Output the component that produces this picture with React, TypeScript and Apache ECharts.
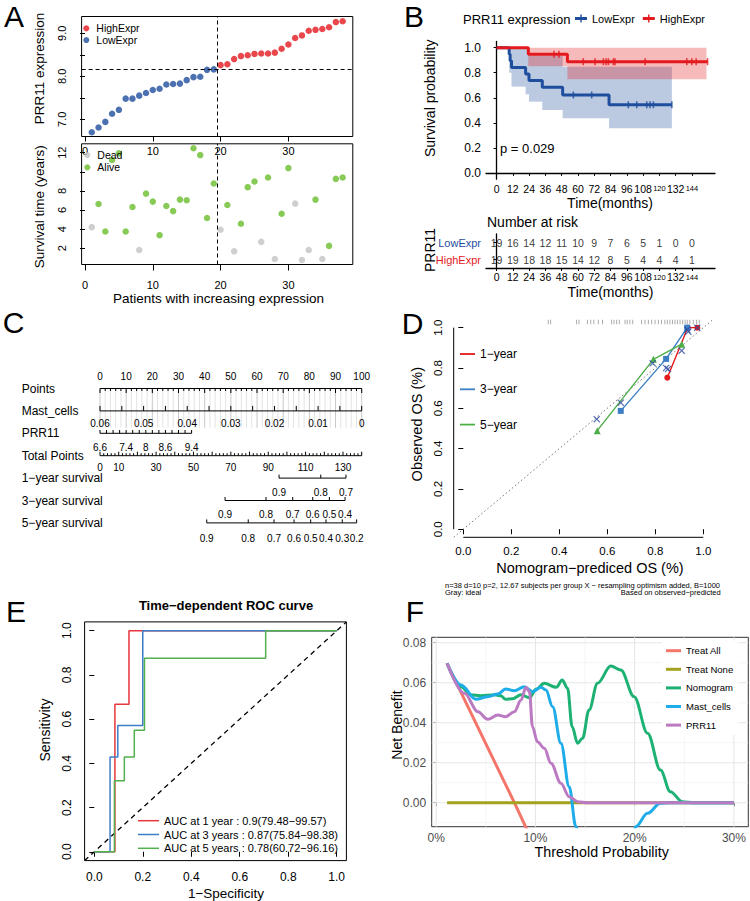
import React, { useEffect, useRef } from "react";
import * as echarts from "echarts";

const FONT = "'Liberation Sans', Arial, Helvetica, sans-serif";

/* ---------------- A: PRR11 expression ranking and survival status ---------------- */
const lowExpr = [6.70, 6.81, 6.94, 7.13, 7.22, 7.48, 7.48, 7.55, 7.61, 7.68, 7.71, 7.81, 7.82, 7.83, 7.91, 7.98, 7.99, 8.15, 8.16];
const highExpr = [8.26, 8.28, 8.40, 8.47, 8.49, 8.52, 8.53, 8.53, 8.55, 8.64, 8.74, 8.89, 8.95, 9.06, 9.08, 9.10, 9.14, 9.26, 9.28];
const exprCutoff = 8.16;
const groupBoundary = 19.5;
const deadPatients = [[1, 4.21], [8, 1.82], [20, 3.93], [22, 1.68], [26, 2.67], [28, 0.88], [31, 6.67], [32, 0.77], [33, 1.82], [35, 0.88]];
const alivePatients = [[2, 6.63], [3, 3.75], [4, 11.23], [5, 11.93], [6, 3.75], [7, 6.32], [9, 7.72], [10, 6.88], [11, 3.37], [12, 6.42], [13, 5.89], [14, 7.09], [15, 7.02], [16, 12.46], [17, 11.75], [18, 5.16], [19, 8.77], [21, 6.53], [23, 4.56], [24, 8.39], [25, 8.98], [27, 9.40], [29, 5.61], [30, 10.39], [34, 7.09], [36, 2.25], [37, 9.26], [38, 9.40]];
const patientTicks = [0, 10, 20, 30];

/* ---------------- B: Kaplan-Meier by PRR11 group ---------------- */
const kmLow = [[0, 1], [9.3, 0.947], [10, 0.895], [11, 0.842], [21.4, 0.789], [23.9, 0.737], [33.7, 0.684], [48.7, 0.622], [82.9, 0.544], [129.2, 0.544]];
const kmHigh = [[0, 1], [23.4, 0.947], [52.2, 0.888], [155.5, 0.888]];
const censorLow = [[56.6, 0.622], [70.1, 0.622], [97.1, 0.544], [103.3, 0.544], [110.7, 0.544], [113.1, 0.544], [115.6, 0.544], [129.2, 0.544]];
const censorHigh = [[42.3, 0.947], [46.0, 0.947], [63.9, 0.888], [72.6, 0.888], [78.7, 0.888], [80.7, 0.888], [82.4, 0.888], [86.1, 0.888], [87.3, 0.888], [109.5, 0.888], [140.2, 0.888], [143.9, 0.888], [147.1, 0.888], [155.5, 0.888]];
// confidence bands: [start, end, lower, upper]
const bandLow = [[9.3, 11, 0.80, 1], [11, 21.4, 0.689, 1], [21.4, 23.9, 0.628, 1], [23.9, 33.7, 0.569, 0.936], [33.7, 48.7, 0.503, 0.936], [48.7, 82.9, 0.436, 0.848], [82.9, 129.2, 0.357, 0.848]];
const bandHigh = [[23.4, 52.2, 0.852, 1], [52.2, 154.7, 0.748, 1]];
const riskTimes = [0, 12, 24, 36, 48, 60, 72, 84, 96, 108, 120, 132, 144];
const riskLow = [19, 16, 14, 12, 11, 10, 9, 7, 6, 5, 1, 0, 0];
const riskHigh = [19, 19, 18, 18, 15, 14, 12, 8, 5, 4, 4, 4, 1];
const probTicks = [0, 0.2, 0.4, 0.6, 0.8, 1];

/* ---------------- C: nomogram scales ---------------- */
const nomoRows = ["Points", "Mast_cells", "PRR11", "Total Points", "1\u2212year survival", "3\u2212year survival", "5\u2212year survival"];
const pointsLabels = [0, 10, 20, 30, 40, 50, 60, 70, 80, 90, 100];
const mastTicks = [0.06, 0.055, 0.05, 0.045, 0.04, 0.035, 0.03, 0.025, 0.02, 0.015, 0.01, 0.005, 0];
const mastLabelVals = [0.06, 0.05, 0.04, 0.03, 0.02, 0.01, 0];
const mastLabelText = ["0.06", "0.05", "0.04", "0.03", "0.02", "0.01", "0"];
const prrTicks = [6.6, 6.8, 7.0, 7.2, 7.4, 7.6, 7.8, 8.0, 8.2, 8.4, 8.6, 8.8, 9.0, 9.2, 9.4];
const prrLabelVals = [6.6, 7.4, 8, 8.6, 9.4];
const totalLabels = [0, 10, 30, 50, 70, 90, 110, 130];
const surv1Text = ["0.9", "0.8", "0.7"];
const surv1Pts = [95.8, 118.1, 131.6];
const surv3Text = ["0.9", "0.8", "0.7", "0.6", "0.5", "0.4"];
const surv3Pts = [66.9, 88.8, 103.1, 113.8, 122.7, 131.1];
const surv5Text = ["0.9", "0.8", "0.7", "0.6", "0.5", "0.4", "0.3", "0.2"];
const surv5Pts = [57.1, 79.3, 93.1, 103.8, 112.7, 120.9, 129.6, 137.3];
const POINTS_MAX = 100;
const TOTAL_MAX = 140;
const MAST_AT_ZERO = 0.06;
const PRR_MIN = 6.6;
const PRR_MAX = 9.4;
const PRR_MAX_POINTS = 35;

/* ---------------- D: calibration ---------------- */
const cal1 = [[0.85, 0.752], [0.935, 1.0], [0.975, 1.0]];
const cal3 = [[0.656, 0.587], [0.845, 0.845], [0.933, 1.0]];
const cal5 = [[0.558, 0.489], [0.792, 0.843], [0.91, 0.918]];
const calCorrected = [[0.556, 0.546], [0.656, 0.628], [0.789, 0.823], [0.845, 0.80], [0.853, 0.795], [0.91, 0.886], [0.9375, 0.98], [0.933, 0.99], [0.975, 1.0]];
const rugPredicted = [0.354, 0.364, 0.472, 0.482, 0.517, 0.531, 0.544, 0.5625, 0.58, 0.618, 0.628, 0.639, 0.65, 0.674, 0.683, 0.694, 0.706, 0.743, 0.757, 0.771, 0.785, 0.799, 0.8125, 0.826, 0.84, 0.85, 0.861, 0.872, 0.882, 0.892, 0.903, 0.914, 0.924, 0.933, 0.944, 0.958, 0.972, 0.983];
const unitTicks = [0, 0.2, 0.4, 0.6, 0.8, 1];

/* ---------------- E: time-dependent ROC ---------------- */
const roc1 = [[0, 0], [0.085, 0], [0.085, 0.667], [0.143, 0.667], [0.143, 1], [1, 1]];
const roc3 = [[0, 0], [0.065, 0], [0.065, 0.429], [0.097, 0.429], [0.097, 0.571], [0.2, 0.571], [0.2, 1], [1, 1]];
const roc5 = [[0, 0], [0.083, 0], [0.083, 0.321], [0.124, 0.321], [0.124, 0.429], [0.165, 0.429], [0.165, 0.55], [0.207, 0.55], [0.207, 0.875], [0.707, 0.875], [0.707, 1], [1, 1]];
const rocNames = ["AUC at 1 year : 0.9(79.48\u221299.57)", "AUC at 3 years : 0.87(75.84\u221298.38)", "AUC at 5 years : 0.78(60.72\u221296.16)"];

/* ---------------- F: decision curves ---------------- */
const treatAll = [[0.011, 0.0695], [0.0788, 0], [0.10, -0.0225]];
const treatNone = [[0.011, 0], [0.30, 0]];
const nomogramNB = [[0.011, 0.0697], [0.025, 0.058], [0.035, 0.054], [0.045, 0.0535], [0.0587, 0.054], [0.065, 0.0535], [0.070, 0.0517], [0.077, 0.052], [0.0855, 0.054], [0.094, 0.0525], [0.1006, 0.0567], [0.109, 0.0597], [0.121, 0.0577], [0.127, 0.0613], [0.1324, 0.0572], [0.137, 0.038], [0.1425, 0.0297], [0.1475, 0.0322], [0.154, 0.0463], [0.1626, 0.0597], [0.176, 0.0683], [0.186, 0.0663], [0.1995, 0.053], [0.213, 0.0347], [0.226, 0.0163], [0.236, 0.0055], [0.248, 0.0005], [0.26, 0], [0.30, 0]];
const mastNB = [[0.011, 0.0697], [0.025, 0.0588], [0.040, 0.0517], [0.052, 0.053], [0.062, 0.0543], [0.070, 0.0568], [0.0788, 0.056], [0.0888, 0.058], [0.097, 0.0555], [0.1056, 0.0577], [0.1106, 0.0563], [0.1173, 0.048], [0.1257, 0.0297], [0.134, 0.008], [0.1408, -0.012], [0.15, -0.04], [0.175, -0.06], [0.195, -0.03], [0.201, -0.012], [0.213, -0.0053], [0.226, -0.0003], [0.235, 0], [0.30, 0]];
const prrNB = [[0.011, 0.0697], [0.0285, 0.0547], [0.042, 0.0455], [0.052, 0.0417], [0.062, 0.0438], [0.070, 0.043], [0.0788, 0.0455], [0.0855, 0.0513], [0.0905, 0.0577], [0.094, 0.0555], [0.097, 0.038], [0.102, 0.0305], [0.109, 0.0272], [0.1157, 0.0197], [0.1257, 0.0097], [0.134, 0.003], [0.1425, 0.0005], [0.1525, 0], [0.30, 0]];
const dcaXMajor = [0, 0.1, 0.2, 0.3];
const dcaXMinor = [0.05, 0.15, 0.25];
const dcaYMajor = [0, 0.02, 0.04, 0.06, 0.08];
const dcaYMinor = [-0.01, 0.01, 0.03, 0.05, 0.07];

/* ---------------- colours ---------------- */
const BLUE = "#1f4e9e";
const RED = "#e3191e";
const DEAD = "#c3c3c3";
const ALIVE = "#69bd2c";
const CAL_RED = "#e41a1c";
const CAL_BLUE = "#3c7fc4";
const CAL_GREEN = "#4dae48";
const CAL_X = "#2d4b9e";
const ROC_RED = "#e6373c";
const ROC_BLUE = "#3d7dc9";
const ROC_GREEN = "#52b04f";
const DCA = ["#f4766a", "#a3a21e", "#1db274", "#1fadea", "#bb7ac2"];

function text(t: string, x: number, y: number, o: any = {}) {
  return {
    type: "text",
    x,
    y,
    rotation: o.rotate ? Math.PI / 2 : 0,
    silent: true,
    style: {
      text: t,
      fontSize: o.size ?? 12,
      fontFamily: FONT,
      fontWeight: o.bold ? "bold" : "normal",
      fill: o.color ?? "#000",
      align: o.align ?? "center",
      verticalAlign: "middle",
    },
  };
}

function buildOption() {
  const black = { color: "#000", width: 1 };
  const lab = (extra: any) => ({ fontSize: 11, color: "#000", fontFamily: FONT, ...extra });

  // nomogram geometry built from the scale arrays
  const toTotal = (p: number) => (p * TOTAL_MAX) / POINTS_MAX;
  const mastToPoints = (m: number) => ((MAST_AT_ZERO - m) / MAST_AT_ZERO) * POINTS_MAX;
  const prrToPoints = (v: number) => ((v - PRR_MIN) / (PRR_MAX - PRR_MIN)) * PRR_MAX_POINTS;
  const nTicks: any[] = [];
  const nLabels: any[] = [];
  const nLines: any[] = [];
  const nGrid: any[] = [];
  for (let p = 0; p <= POINTS_MAX; p += 2) {
    nTicks.push({ t: toTotal(p), row: 0, len: p % 10 === 0 ? 4.5 : 2.5 });
    nGrid.push({ t: toTotal(p), major: p % 10 === 0 });
  }
  pointsLabels.forEach((p) => nLabels.push({ t: toTotal(p), row: 0, text: String(p), dy: -12 }));
  nLines.push([0, TOTAL_MAX, 0]);
  mastTicks.forEach((m) => nTicks.push({ t: toTotal(mastToPoints(m)), row: 1, len: -5 }));
  mastLabelVals.forEach((m, i) => nLabels.push({ t: toTotal(mastToPoints(m)), row: 1, text: mastLabelText[i], dy: 12.3 }));
  nLines.push([0, TOTAL_MAX, 1]);
  prrTicks.forEach((v) => nTicks.push({ t: toTotal(prrToPoints(v)), row: 2, len: -3.3 }));
  prrLabelVals.forEach((v) => nLabels.push({ t: toTotal(prrToPoints(v)), row: 2, text: String(v), dy: 14 }));
  nLines.push([0, toTotal(PRR_MAX_POINTS), 2]);
  for (let t = 0; t <= TOTAL_MAX; t += 2) nTicks.push({ t, row: 3, len: t % 10 === 0 ? -4 : -2.5 });
  totalLabels.forEach((t) => nLabels.push({ t, row: 3, text: String(t), dy: 11.7 }));
  nLines.push([0, TOTAL_MAX, 3]);
  const survRows: [number[], string[], number, number][] = [
    [surv1Pts, surv1Text, 4, 14.3],
    [surv3Pts, surv3Text, 5, 14.3],
    [surv5Pts, surv5Text, 6, 15.6],
  ];
  survRows.forEach(([pts, txt, row, dy]) => {
    pts.forEach((t, i) => {
      nTicks.push({ t, row, len: -3.5 });
      nLabels.push({ t, row, text: txt[i], dy });
    });
    nLines.push([Math.min(...pts), Math.max(...pts), row]);
  });

  const dcaGrid = [
    ...dcaXMajor.map((v) => ({ v, dir: "x", major: true })),
    ...dcaXMinor.map((v) => ({ v, dir: "x", major: false })),
    ...dcaYMajor.map((v) => ({ v, dir: "y", major: true })),
    ...dcaYMinor.map((v) => ({ v, dir: "y", major: false })),
  ];

  const xMark = "path://M0,1.2 L1.2,0 L5,3.8 L8.8,0 L10,1.2 L6.2,5 L10,8.8 L8.8,10 L5,6.2 L1.2,10 L0,8.8 L3.8,5 Z";
  const plusIcon = "path://M0,2.6 H5.3 V0 H6.7 V2.6 H12 V5.4 H6.7 V8 H5.3 V5.4 H0 Z";
  const bandRender = (fill: string) => (params: any, api: any) => {
    const p0 = api.coord([api.value(0), api.value(3)]);
    const p1 = api.coord([api.value(1), api.value(2)]);
    return { type: "rect", shape: { x: p0[0], y: p0[1], width: p1[0] - p0[0], height: p1[1] - p0[1] }, style: { fill } };
  };
  const kmXLabel = {
    customValues: riskTimes,
    fontSize: 10.5,
    lineHeight: 10.5,
    color: "#000",
    fontFamily: FONT,
    formatter: (v: number) => (v === 120 || v === 144 ? `{s|${v}}` : String(v)),
    rich: { s: { fontSize: 7.5, fontFamily: FONT, color: "#000" } },
  };

  return {
    animation: false,
    backgroundColor: "#fff",
    textStyle: { fontFamily: FONT },
    grid: [
      { left: 81.6, top: 16.5, width: 271.2, height: 120, show: true, borderColor: "#000", borderWidth: 1, outerBoundsMode: "none" },
      { left: 81.6, top: 143.8, width: 271.2, height: 120.7, show: true, borderColor: "#000", borderWidth: 1, outerBoundsMode: "none" },
      { left: 486, top: 41.4, width: 229, height: 137.8, outerBoundsMode: "none" },
      { left: 486, top: 234, width: 229, height: 34, outerBoundsMode: "none" },
      { left: 100, top: 377.3, width: 261.7, height: 156.8, outerBoundsMode: "none" },
      { left: 453.7, top: 319.6, width: 259.2, height: 217.7, outerBoundsMode: "none" },
      { left: 84.6, top: 621.9, width: 261.8, height: 238.7, show: true, borderColor: "#000", borderWidth: 1, outerBoundsMode: "none" },
      { left: 431.7, top: 637.3, width: 316.6, height: 189.4, show: true, borderColor: "#333", borderWidth: 1, outerBoundsMode: "none" },
    ],
    xAxis: [
      { gridIndex: 0, type: "value", min: -0.5, max: 39.5, axisLine: { show: false }, splitLine: { show: false },
        axisTick: { show: true, customValues: patientTicks, length: 5, lineStyle: black },
        axisLabel: lab({ customValues: patientTicks, margin: 9 }) },
      { gridIndex: 1, type: "value", min: -0.5, max: 39.5, axisLine: { show: false }, splitLine: { show: false },
        axisTick: { show: true, customValues: patientTicks, length: 6, lineStyle: black },
        axisLabel: lab({ customValues: patientTicks, margin: 14.5 }) },
      { gridIndex: 2, type: "value", min: -7.8, max: 161, axisLine: { show: true, lineStyle: { color: "#000", width: 1.3 } }, splitLine: { show: false },
        axisTick: { show: true, customValues: riskTimes, length: 3, lineStyle: black }, axisLabel: { ...kmXLabel, margin: 4.5 } },
      { gridIndex: 3, type: "value", min: -7.8, max: 161, axisLine: { show: true, lineStyle: { color: "#000", width: 1.3 } }, splitLine: { show: false },
        axisTick: { show: true, customValues: riskTimes, length: 3, lineStyle: black }, axisLabel: { ...kmXLabel, margin: 4 } },
      { gridIndex: 4, type: "value", min: 0, max: TOTAL_MAX, show: false },
      { gridIndex: 5, type: "value", min: -0.04, max: 1.04, axisLine: { show: false }, splitLine: { show: false },
        axisTick: { show: true, customValues: unitTicks, length: 5, lineStyle: black },
        axisLabel: lab({ customValues: unitTicks, margin: 8, fontSize: 11.5, formatter: (v: number) => v.toFixed(1) }) },
      { gridIndex: 6, type: "value", min: -0.04, max: 1.04, axisLine: { show: false }, splitLine: { show: false },
        axisTick: { show: true, customValues: unitTicks, length: 5, lineStyle: black },
        axisLabel: lab({ customValues: unitTicks, margin: 10.5, fontSize: 12, formatter: (v: number) => v.toFixed(1) }) },
      { gridIndex: 7, type: "value", min: -0.0045, max: 0.3145, axisLine: { show: false }, splitLine: { show: false },
        axisTick: { show: true, customValues: dcaXMajor, length: 3.5, lineStyle: { color: "#333", width: 1 } },
        axisLabel: lab({ customValues: dcaXMajor, margin: 5.5, fontSize: 12, color: "#4d4d4d", formatter: (v: number) => `${Math.round(v * 100)}%` }) },
    ],
    yAxis: [
      { gridIndex: 0, type: "value", min: 6.6, max: 9.39, axisLine: { show: false }, splitLine: { show: false },
        axisTick: { show: true, customValues: [7, 7.5, 8, 8.5, 9], length: 5, lineStyle: black },
        axisLabel: lab({ customValues: [7, 8, 9], rotate: 90, margin: 14, formatter: (v: number) => v.toFixed(1) }) },
      { gridIndex: 1, type: "value", min: 0.3, max: 12.93, axisLine: { show: false }, splitLine: { show: false },
        axisTick: { show: true, customValues: [2, 4, 6, 8, 10, 12], length: 5, lineStyle: black },
        axisLabel: lab({ customValues: [2, 4, 6, 8, 12], rotate: 90, margin: 14 }) },
      { gridIndex: 2, type: "value", min: -0.05, max: 1.05, axisLine: { show: true, lineStyle: { color: "#000", width: 1.3 } }, splitLine: { show: false },
        axisTick: { show: true, customValues: probTicks, length: 3, lineStyle: black },
        axisLabel: lab({ customValues: probTicks, margin: 5, fontSize: 12, formatter: (v: number) => v.toFixed(1) }) },
      { gridIndex: 3, type: "category", data: ["HighExpr", "LowExpr"], axisLine: { show: true, lineStyle: { color: "#000", width: 1.3 } },
        axisTick: { show: true, alignWithLabel: true, length: 3, lineStyle: black },
        axisLabel: { fontSize: 11, fontFamily: FONT, margin: 5, color: (v: string) => (v === "LowExpr" ? BLUE : RED) } },
      { gridIndex: 4, type: "value", min: -0.5, max: 6.5, inverse: true, axisLine: { show: false }, axisTick: { show: false }, splitLine: { show: false },
        axisLabel: { customValues: [0, 1, 2, 3, 4, 5, 6], formatter: (v: number) => nomoRows[Math.round(v)], align: "left", margin: 78.3, fontSize: 12, lineHeight: 11, color: "#000", fontFamily: FONT } },
      { gridIndex: 5, type: "value", min: -0.04, max: 1.04, axisLine: { show: false }, splitLine: { show: false },
        axisTick: { show: true, customValues: unitTicks, length: 5, lineStyle: black },
        axisLabel: lab({ customValues: unitTicks, margin: 10, fontSize: 11.5, rotate: 90, formatter: (v: number) => v.toFixed(1) }) },
      { gridIndex: 6, type: "value", min: -0.04, max: 1.04, axisLine: { show: false }, splitLine: { show: false },
        axisTick: { show: true, customValues: unitTicks, length: 5, lineStyle: black },
        axisLabel: lab({ customValues: unitTicks, margin: 12, fontSize: 12, rotate: 90, formatter: (v: number) => v.toFixed(1) }) },
      { gridIndex: 7, type: "value", min: -0.012, max: 0.0827, axisLine: { show: false }, splitLine: { show: false },
        axisTick: { show: true, customValues: dcaYMajor, length: 3.5, lineStyle: { color: "#333", width: 1 } },
        axisLabel: lab({ customValues: dcaYMajor, margin: 5.5, fontSize: 12, color: "#4d4d4d", formatter: (v: number) => v.toFixed(2) }) },
    ],
    legend: [
      { data: ["HighExpr", "LowExpr"], orient: "vertical", left: 83.3, top: 22.5, padding: 0, itemGap: 0, icon: "circle", itemWidth: 10, itemHeight: 6,
        textStyle: { fontSize: 10.5, lineHeight: 11.7, color: "#000", fontFamily: FONT } },
      { data: ["Dead", "Alive"], orient: "vertical", left: 84.3, top: 148.9, padding: 0, itemGap: 0, icon: "circle", itemWidth: 10, itemHeight: 6,
        textStyle: { fontSize: 10.5, lineHeight: 12.3, color: "#000", fontFamily: FONT } },
      { data: ["KM LowExpr", "KM HighExpr"], orient: "horizontal", left: 575, top: 13, padding: 0, itemGap: 8, icon: plusIcon, itemWidth: 12, itemHeight: 8,
        formatter: (n: string) => n.replace("KM ", ""), textStyle: { fontSize: 11, color: "#000", fontFamily: FONT } },
      { data: ["1\u2212year", "3\u2212year", "5\u2212year"], orient: "vertical", left: 460, top: 347.5, padding: 0, itemGap: 22.3, icon: "rect", itemWidth: 15, itemHeight: 1.8,
        textStyle: { fontSize: 12, lineHeight: 13, color: "#000", fontFamily: FONT } },
      { data: rocNames, orient: "vertical", left: 138, top: 813.8, padding: 0, itemGap: 0, icon: "rect", itemWidth: 21, itemHeight: 1.5,
        textStyle: { fontSize: 11, lineHeight: 13.8, color: "#000", fontFamily: FONT } },
      { data: ["Treat All", "Treat None", "Nomogram", "Mast_cells", "PRR11"], orient: "vertical", left: 662, top: 640.7, padding: [4, 6, 4, 4],
        backgroundColor: "#fff", itemGap: 6.6, icon: "rect", itemWidth: 15, itemHeight: 3,
        textStyle: { fontSize: 9.5, lineHeight: 12, color: "#000", fontFamily: FONT } },
    ],
    series: [
      /* A */
      { name: "LowExpr", type: "scatter", xAxisIndex: 0, yAxisIndex: 0, color: BLUE, symbolSize: 6.5,
        data: lowExpr.map((v, i) => [i + 1, v]),
        markLine: { silent: true, symbol: "none", label: { show: false }, lineStyle: { color: "#000", type: [4, 3], width: 1 },
          data: [{ yAxis: exprCutoff }, { xAxis: groupBoundary }] } },
      { name: "HighExpr", type: "scatter", xAxisIndex: 0, yAxisIndex: 0, color: RED, symbolSize: 6.5,
        data: highExpr.map((v, i) => [i + 1 + lowExpr.length, v]) },
      { name: "Dead", type: "scatter", xAxisIndex: 1, yAxisIndex: 1, color: DEAD, symbolSize: 6.5, data: deadPatients,
        markLine: { silent: true, symbol: "none", label: { show: false }, lineStyle: { color: "#000", type: [4, 3], width: 1 },
          data: [{ xAxis: groupBoundary }] } },
      { name: "Alive", type: "scatter", xAxisIndex: 1, yAxisIndex: 1, color: ALIVE, symbolSize: 6.5, data: alivePatients },

      /* B */
      { name: "band low", type: "custom", xAxisIndex: 2, yAxisIndex: 2, silent: true, z: 1, data: bandLow,
        encode: { x: [0, 1], y: [2, 3] }, renderItem: bandRender("rgba(31,78,154,0.3)") },
      { name: "band high", type: "custom", xAxisIndex: 2, yAxisIndex: 2, silent: true, z: 1, data: bandHigh,
        encode: { x: [0, 1], y: [2, 3] }, renderItem: bandRender("rgba(228,26,28,0.3)") },
      { name: "KM LowExpr", type: "line", step: "end", xAxisIndex: 2, yAxisIndex: 2, color: BLUE, showSymbol: false, data: kmLow,
        lineStyle: { color: BLUE, width: 3 }, z: 3 },
      { name: "KM HighExpr", type: "line", step: "end", xAxisIndex: 2, yAxisIndex: 2, color: RED, showSymbol: false, data: kmHigh,
        lineStyle: { color: RED, width: 3 }, z: 3 },
      { name: "censor low", type: "scatter", xAxisIndex: 2, yAxisIndex: 2, color: BLUE, symbol: "rect", symbolSize: [1.6, 7], data: censorLow, z: 4 },
      { name: "censor high", type: "scatter", xAxisIndex: 2, yAxisIndex: 2, color: RED, symbol: "rect", symbolSize: [1.6, 7], data: censorHigh, z: 4 },
      { name: "risk low", type: "scatter", xAxisIndex: 3, yAxisIndex: 3, silent: true, symbolSize: 1, itemStyle: { color: "rgba(0,0,0,0)" },
        data: riskTimes.map((t, i) => [t, 1, riskLow[i]]),
        label: { show: true, position: "inside", formatter: (p: any) => String(p.value[2]), fontSize: 10.5, color: "#000", fontFamily: FONT } },
      { name: "risk high", type: "scatter", xAxisIndex: 3, yAxisIndex: 3, silent: true, symbolSize: 1, itemStyle: { color: "rgba(0,0,0,0)" },
        data: riskTimes.map((t, i) => [t, 0, riskHigh[i]]),
        label: { show: true, position: "inside", formatter: (p: any) => String(p.value[2]), fontSize: 10.5, color: "#000", fontFamily: FONT } },

      /* C */
      { name: "nomo grid", type: "custom", xAxisIndex: 4, yAxisIndex: 4, silent: true, z: 1,
        data: nGrid.map((g) => [g.t, 0]),
        renderItem: (params: any, api: any) => {
          const g = nGrid[params.dataIndex];
          const a = api.coord([g.t, 0]);
          const b = api.coord([g.t, 1.75]);
          return { type: "line", shape: { x1: a[0], y1: a[1], x2: b[0], y2: b[1] }, style: { stroke: g.major ? "#c9c9c9" : "#e3e3e3", lineWidth: 1 } };
        } },
      { name: "nomo axes", type: "custom", xAxisIndex: 4, yAxisIndex: 4, silent: true, z: 2,
        data: nLines,
        renderItem: (params: any, api: any) => {
          const a = api.coord([api.value(0), api.value(2)]);
          const b = api.coord([api.value(1), api.value(2)]);
          return { type: "line", shape: { x1: a[0], y1: a[1], x2: b[0], y2: b[1] }, style: { stroke: "#000", lineWidth: 1 } };
        } },
      { name: "nomo ticks", type: "custom", xAxisIndex: 4, yAxisIndex: 4, silent: true, z: 2,
        data: nTicks.map((s) => [s.t, s.row]),
        renderItem: (params: any, api: any) => {
          const s = nTicks[params.dataIndex];
          const p = api.coord([s.t, s.row]);
          return { type: "line", shape: { x1: p[0], y1: p[1], x2: p[0], y2: p[1] + s.len }, style: { stroke: "#000", lineWidth: 1 } };
        } },
      { name: "nomo labels", type: "custom", xAxisIndex: 4, yAxisIndex: 4, silent: true, z: 2,
        data: nLabels.map((s) => [s.t, s.row]),
        renderItem: (params: any, api: any) => {
          const s = nLabels[params.dataIndex];
          const p = api.coord([s.t, s.row]);
          return { type: "text", x: p[0], y: p[1] + s.dy,
            style: { text: s.text, align: "center", verticalAlign: "middle", fontSize: 10, lineHeight: 10, fontFamily: FONT, fill: "#000" } };
        } },

      /* D */
      { name: "ideal", type: "line", xAxisIndex: 5, yAxisIndex: 5, silent: true, showSymbol: false, z: 1,
        data: [[-0.04, -0.04], [1.04, 1.04]], lineStyle: { color: "#777", width: 1, type: [1.5, 2.5] } },
      { name: "d x axis", type: "line", xAxisIndex: 5, yAxisIndex: 5, silent: true, showSymbol: false, clip: false,
        data: [[unitTicks[0], -0.04], [unitTicks[unitTicks.length - 1], -0.04]], lineStyle: { color: "#000", width: 1 } },
      { name: "d y axis", type: "line", xAxisIndex: 5, yAxisIndex: 5, silent: true, showSymbol: false, clip: false,
        data: [[-0.04, unitTicks[0]], [-0.04, unitTicks[unitTicks.length - 1]]], lineStyle: { color: "#000", width: 1 } },
      { name: "rug", type: "scatter", xAxisIndex: 5, yAxisIndex: 5, silent: true, symbol: "rect", symbolSize: [0.9, 4.5],
        itemStyle: { color: "#8c8c8c", opacity: 0.8 }, data: rugPredicted.map((v) => [v, 1.028]) },
      { name: "1\u2212year", type: "line", xAxisIndex: 5, yAxisIndex: 5, color: CAL_RED, data: cal1, symbol: "circle", symbolSize: 6,
        lineStyle: { color: CAL_RED, width: 1.4 }, itemStyle: { color: CAL_RED }, z: 3 },
      { name: "3\u2212year", type: "line", xAxisIndex: 5, yAxisIndex: 5, color: CAL_BLUE, data: cal3, symbol: "rect", symbolSize: 6,
        lineStyle: { color: CAL_BLUE, width: 1.4 }, itemStyle: { color: CAL_BLUE }, z: 3 },
      { name: "5\u2212year", type: "line", xAxisIndex: 5, yAxisIndex: 5, color: CAL_GREEN, data: cal5, symbol: "triangle", symbolSize: 7,
        lineStyle: { color: CAL_GREEN, width: 1.4 }, itemStyle: { color: CAL_GREEN }, z: 3 },
      { name: "corrected", type: "scatter", xAxisIndex: 5, yAxisIndex: 5, silent: true, symbol: xMark, symbolSize: 7,
        itemStyle: { color: CAL_X }, data: calCorrected, z: 4 },

      /* E */
      { name: "chance", type: "line", xAxisIndex: 6, yAxisIndex: 6, silent: true, showSymbol: false, z: 1,
        data: [[-0.04, -0.04], [1.04, 1.04]], lineStyle: { color: "#000", width: 1.3, type: [5, 4] } },
      { name: rocNames[0], type: "line", xAxisIndex: 6, yAxisIndex: 6, color: ROC_RED, showSymbol: false, data: roc1, lineStyle: { color: ROC_RED, width: 1.5 } },
      { name: rocNames[1], type: "line", xAxisIndex: 6, yAxisIndex: 6, color: ROC_BLUE, showSymbol: false, data: roc3, lineStyle: { color: ROC_BLUE, width: 1.5 } },
      { name: rocNames[2], type: "line", xAxisIndex: 6, yAxisIndex: 6, color: ROC_GREEN, showSymbol: false, data: roc5, lineStyle: { color: ROC_GREEN, width: 1.5 } },

      /* F */
      { name: "dca grid", type: "custom", xAxisIndex: 7, yAxisIndex: 7, silent: true, z: 1,
        data: dcaGrid.map((g) => (g.dir === "x" ? [g.v, 0.03] : [0.15, g.v])),
        renderItem: (params: any, api: any) => {
          const g = dcaGrid[params.dataIndex];
          const cs = params.coordSys;
          const style = { stroke: g.major ? "#e6e6e6" : "#f1f1f1", lineWidth: g.major ? 1.1 : 0.7 };
          if (g.dir === "x") {
            const x = api.coord([g.v, 0])[0];
            return { type: "line", shape: { x1: x, y1: cs.y, x2: x, y2: cs.y + cs.height }, style };
          }
          const y = api.coord([0, g.v])[1];
          return { type: "line", shape: { x1: cs.x, y1: y, x2: cs.x + cs.width, y2: y }, style };
        } },
      { name: "Treat All", type: "line", xAxisIndex: 7, yAxisIndex: 7, color: DCA[0], showSymbol: false, data: treatAll, lineStyle: { color: DCA[0], width: 3 }, z: 3 },
      { name: "Treat None", type: "line", xAxisIndex: 7, yAxisIndex: 7, color: DCA[1], showSymbol: false, data: treatNone, lineStyle: { color: DCA[1], width: 3 }, z: 3 },
      { name: "Nomogram", type: "line", xAxisIndex: 7, yAxisIndex: 7, color: DCA[2], showSymbol: false, data: nomogramNB, smooth: 0.35, smoothMonotone: "x", lineStyle: { color: DCA[2], width: 3 }, z: 3 },
      { name: "Mast_cells", type: "line", xAxisIndex: 7, yAxisIndex: 7, color: DCA[3], showSymbol: false, data: mastNB, smooth: 0.35, smoothMonotone: "x", lineStyle: { color: DCA[3], width: 3 }, z: 3 },
      { name: "PRR11", type: "line", xAxisIndex: 7, yAxisIndex: 7, color: DCA[4], showSymbol: false, data: prrNB, smooth: 0.35, smoothMonotone: "x", lineStyle: { color: DCA[4], width: 3 }, z: 3 },
    ],
    graphic: [
      text("A", 14, 16, { size: 30 }),
      text("B", 414, 16, { size: 30 }),
      text("C", 13.5, 322, { size: 30 }),
      text("D", 412.5, 323.5, { size: 30 }),
      text("E", 16, 611, { size: 30 }),
      text("F", 415, 611, { size: 30 }),
      // A
      text("PRR11 expression", 39.5, 68.5, { size: 13.5, rotate: true }),
      text("Survival time (years)", 39.5, 206.7, { size: 13.5, rotate: true }),
      text("Patients with increasing expression", 218.5, 298, { size: 13.5 }),
      // B
      text("PRR11 expression", 463, 19, { size: 13, align: "left" }),
      text("Survival probability", 430, 98.3, { size: 14, rotate: true }),
      text("p = 0.029", 500, 148.3, { size: 13, align: "left" }),
      text("Time(months)", 610, 203, { size: 14 }),
      text("Number at risk", 487, 221.7, { size: 14, align: "left" }),
      text("PRR11", 430, 250, { size: 14, rotate: true }),
      text("Time(months)", 610.5, 291.5, { size: 14 }),
      // D
      text("Observed OS (%)", 416.7, 424.2, { size: 14.5, rotate: true }),
      text("Nomogram\u2212prediced OS (%)", 590, 568.3, { size: 14.5 }),
      text("n=38 d=10 p=2, 12.67 subjects per group X \u2212 resampling optimism added, B=1000", 445, 585, { size: 7.5, align: "left" }),
      text("Gray: ideal", 445, 592.7, { size: 7.5, align: "left" }),
      text("Based on observed\u2212predicted", 720.7, 592.7, { size: 7.5, align: "right" }),
      // E
      text("Time\u2212dependent ROC curve", 226, 605, { size: 13, bold: true }),
      text("Sensitivity", 45, 730, { size: 14, rotate: true }),
      text("1\u2212Specificity", 226, 893, { size: 13.5 }),
      // F
      text("Net Benefit", 396.7, 725, { size: 14, rotate: true }),
      text("Threshold Probability", 601.7, 851.7, { size: 14.3 }),
    ],
  };
}

export default function App() {
  const ref = useRef<HTMLDivElement>(null);
  useEffect(() => {
    document.body.style.margin = "0";
    const chart = echarts.init(ref.current as HTMLDivElement, null, { renderer: "svg" });
    chart.setOption(buildOption() as any);
    return () => chart.dispose();
  }, []);
  return <div ref={ref} style={{ width: 750, height: 901, background: "#fff" }} />;
}
